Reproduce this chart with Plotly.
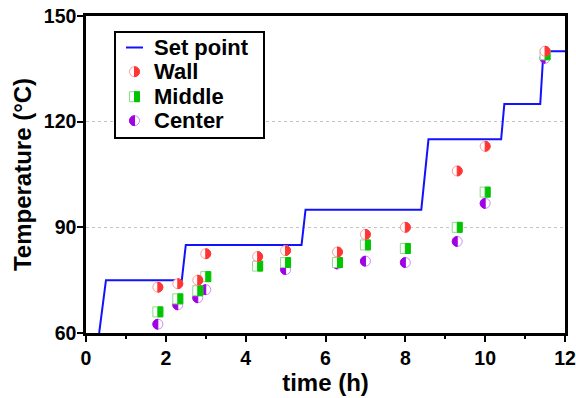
import plotly.graph_objects as go

# Measured temperatures at three positions of the vessel
time_h = [1.8, 2.3, 2.8, 3.0, 4.3, 5.0, 6.3, 7.0, 8.0, 9.3, 10.0, 11.5]
wall_c = [73.0, 74.0, 75.0, 82.5, 81.7, 83.4, 83.0, 88.0, 90.0, 106.0, 113.0, 140.0]
middle_c = [66.0, 69.7, 72.0, 76.0, 79.0, 80.0, 80.0, 85.0, 84.0, 90.0, 100.0, 139.0]
center_c = [62.5, 68.0, 70.0, 72.3, 79.5, 78.0, 79.6, 80.4, 80.0, 86.0, 96.8, 138.0]

# Heating programme (set point)
setpoint_t = [0.33, 0.5, 2.4, 2.5, 5.4, 5.5, 8.4, 8.58, 10.4, 10.48, 11.38, 11.46, 12.0]
setpoint_c = [60, 75, 75, 85, 85, 95, 95, 115, 115, 125, 125, 140, 140]

FONT = "Liberation Sans, Arial, sans-serif"
BLUE = "#1212FF"
SERIES = [
    # name, values, symbol, filled side, dark colour, light colour
    ("Center", center_c, "circle", "left", "#A000E6", "#CC8AF2"),
    ("Middle", middle_c, "square", "right", "#00C400", "#8CDC8C"),
    ("Wall", wall_c, "circle", "right", "#FF3535", "#FF9A9A"),
]
R = 5.0  # marker half size in px
K = 0.5523 * R


def half_shape(side, symbol, color, **anchor):
    """Filled half of a marker, sized in pixels around an anchor point."""
    s = 1 if side == "right" else -1
    if symbol == "square":
        return dict(type="rect", xsizemode="pixel", ysizemode="pixel",
                    x0=0, x1=s * R, y0=-R, y1=R, fillcolor=color,
                    line=dict(color=color, width=1), layer="above", **anchor)
    path = (f"M 0,{-R} C {s*K},{-R} {s*R},{-K} {s*R},0 "
            f"C {s*R},{K} {s*K},{R} 0,{R} Z")
    return dict(type="path", xsizemode="pixel", ysizemode="pixel", path=path,
                fillcolor=color, line=dict(color=color, width=1), layer="above", **anchor)


def outline_shape(symbol, color, **anchor):
    return dict(type="rect" if symbol == "square" else "circle",
                xsizemode="pixel", ysizemode="pixel",
                x0=-R, x1=R, y0=-R, y1=R, fillcolor="white",
                line=dict(color=color, width=1), layer="above", **anchor)


fig = go.Figure()
fig.add_trace(go.Scatter(x=setpoint_t, y=setpoint_c, mode="lines", name="Set point",
                         line=dict(color=BLUE, width=2), showlegend=False))

shapes = []
for name, vals, symbol, side, dark, light in SERIES:
    fig.add_trace(go.Scatter(x=time_h, y=vals, mode="markers", name=name,
                             showlegend=False,
                             marker=dict(symbol=symbol, size=2 * R, color="rgba(0,0,0,0)",
                                         line=dict(width=0))))
    for t, v in zip(time_h, vals):
        a = dict(xref="x", yref="y", xanchor=t, yanchor=v)
        shapes.append(outline_shape(symbol, light, **a))
        shapes.append(half_shape(side, symbol, dark, **a))

# Hand-built legend box (paper coordinates)
PL, PR, PT, PB = 86, 565, 16, 333
def px(x):
    return (x - PL) / (PR - PL)
def py(y):
    return (PB - y) / (PB - PT)

shapes.append(dict(type="rect", xref="paper", yref="paper",
                   x0=px(115), x1=px(264), y0=py(138), y1=py(32),
                   line=dict(color="black", width=2), fillcolor="white", layer="above"))
rows = [("Set point", 47.5), ("Wall", 71.7), ("Middle", 96.7), ("Center", 120.7)]
shapes.append(dict(type="line", xref="paper", yref="paper",
                   x0=px(126), x1=px(143), y0=py(rows[0][1]), y1=py(rows[0][1]),
                   line=dict(color=BLUE, width=2), layer="above"))
legend_style = {"Center": SERIES[0], "Middle": SERIES[1], "Wall": SERIES[2]}
annotations = []
for label, ypix in rows:
    if label in legend_style:
        _, _, symbol, side, dark, light = legend_style[label]
        a = dict(xref="paper", yref="paper", xanchor=px(134.5), yanchor=py(ypix))
        shapes.append(outline_shape(symbol, light, **a))
        shapes.append(half_shape(side, symbol, dark, **a))
    annotations.append(dict(text=label, xref="paper", yref="paper", x=px(152), y=py(ypix),
                            xanchor="left", yanchor="middle", showarrow=False,
                            font=dict(family=FONT, size=22, color="black", weight="bold")))

tickfont = dict(family=FONT, size=19.5, color="black", weight="bold")
titlefont = dict(family=FONT, size=24, color="black", weight="bold")

fig.update_layout(
    width=576, height=398,
    margin=dict(l=86, r=11, t=16, b=65),
    paper_bgcolor="white", plot_bgcolor="white",
    showlegend=False,
    shapes=shapes, annotations=annotations,
    xaxis=dict(range=[0, 12], tickvals=[0, 2, 4, 6, 8, 10, 12], automargin=False,
               ticklabeloverflow="allow",
               ticks="outside", ticklen=6, tickwidth=2, tickcolor="black",
               minor=dict(tickvals=[1, 3, 5, 7, 9, 11], ticks="outside", ticklen=3,
                          tickwidth=2, tickcolor="black"),
               showgrid=False, zeroline=False,
               showline=True, linewidth=2.5, linecolor="black", mirror=True,
               tickfont=tickfont,
               title=dict(text="time (h)", font=titlefont, standoff=4)),
    yaxis=dict(range=[60, 150], tickvals=[60, 90, 120, 150], automargin=False,
               ticklabeloverflow="allow", ticklabelstandoff=-3,
               ticks="outside", ticklen=6, tickwidth=2, tickcolor="black",
               showgrid=True, gridcolor="#C4C4C4", gridwidth=1, griddash="dot",
               zeroline=False,
               showline=True, linewidth=2.5, linecolor="black", mirror=True,
               tickfont=tickfont,
               title=dict(text="Temperature (°C)", font=titlefont, standoff=6)),
)

fig.write_html("out.html")
